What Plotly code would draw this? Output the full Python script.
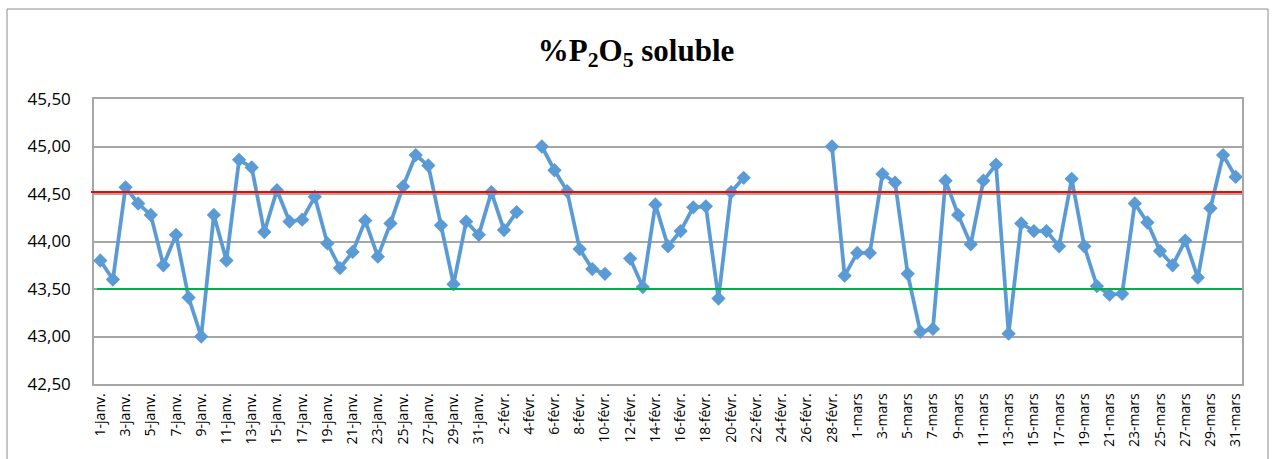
import plotly.graph_objects as go

# Daily soluble P2O5 (%) for the first quarter (leap year: 29 days in February)
jours_janv = [f"{d}-janv." for d in range(1, 32)]
jours_fevr = [f"{d}-févr." for d in range(1, 30)]
jours_mars = [f"{d}-mars" for d in range(1, 32)]

p2o5_janv = [43.80, 43.60, 44.57, 44.40, 44.28, 43.75, 44.07, 43.41, 43.00, 44.28,
             43.80, 44.86, 44.78, 44.10, 44.54, 44.21, 44.23, 44.47, 43.98, 43.72,
             43.89, 44.22, 43.84, 44.19, 44.58, 44.91, 44.80, 44.17, 43.55, 44.21,
             44.07]
p2o5_fevr = [44.52, 44.12, 44.31, None, 45.00, 44.75, 44.53, 43.92, 43.71, 43.66,
             None, 43.82, 43.52, 44.39, 43.95, 44.11, 44.36, 44.37, 43.40, 44.52,
             44.67, None, None, None, None, None, None, 45.00, 43.64]
p2o5_mars = [43.88, 43.88, 44.71, 44.62, 43.66, 43.05, 43.08, 44.64, 44.28, 43.97,
             44.64, 44.81, 43.03, 44.19, 44.11, 44.11, 43.95, 44.66, 43.95, 43.53,
             43.44, 43.45, 44.40, 44.20, 43.90, 43.75, 44.01, 43.62, 44.35, 44.91,
             44.68]

limite_sup = 44.52
limite_inf = 43.50

jours = jours_janv + jours_fevr + jours_mars
valeurs = p2o5_janv + p2o5_fevr + p2o5_mars
etiquettes = jours[::2]

W, H = 1272, 459
ML, MR, MT, MB = 94, 30, 99, 75
pw, ph = W - ML - MR, H - MT - MB


def px_x(x):
    return (x - ML) / pw


def px_y(y):
    return (H - MB - y) / ph


fig = go.Figure()
fig.add_trace(go.Scatter(
    x=jours, y=valeurs, mode="lines+markers", connectgaps=False,
    line=dict(color="#5B9BD5", width=3.75),
    marker=dict(symbol="diamond", size=11, color="#5B9BD5"),
    showlegend=False, hoverinfo="x+y",
))

# control limits
fig.add_shape(type="line", xref="paper", yref="y", x0=px_x(91), x1=1,
              y0=limite_sup, y1=limite_sup, line=dict(color="#FF0000", width=2))
fig.add_shape(type="line", xref="paper", yref="y", x0=px_x(97), x1=1,
              y0=limite_inf, y1=limite_inf, line=dict(color="#00B050", width=2))

# chart-area frame
fig.add_shape(type="rect", xref="paper", yref="paper",
              x0=px_x(7), x1=px_x(1268), y0=px_y(9), y1=px_y(480),
              line=dict(color="#8C8C8C", width=1), fillcolor="rgba(0,0,0,0)",
              layer="below")

fig.update_layout(
    width=W, height=H,
    margin=dict(l=ML, r=MR, t=MT, b=MB, pad=0),
    paper_bgcolor="white", plot_bgcolor="white",
    separators=", ",
    title=dict(text="%P<sub>2</sub>O<sub>5</sub> soluble",
               font=dict(family="Liberation Serif", size=31, color="black",
                         weight="bold"),
               x=0.5, xref="container", xanchor="center",
               y=1 - 50 / H, yref="container", yanchor="middle"),
    font=dict(family="Open Sans", color="black"),
)

fig.update_xaxes(
    type="category", categoryorder="array", categoryarray=jours,
    tickmode="array", tickvals=etiquettes, ticktext=etiquettes,
    tickangle=-90, tickfont=dict(size=14, family="Open Sans"),
    showgrid=False, showline=True, linecolor="#A6A6A6", linewidth=1.5,
    mirror=True, ticks="", ticklabelstandoff=2,
    range=[-0.5, len(jours) - 0.5],
)
fig.update_yaxes(
    range=[42.5, 45.5], dtick=0.5, tick0=42.5, tickformat=".2f",
    tickfont=dict(size=17, family="Open Sans"),
    showgrid=True, gridcolor="#A6A6A6", gridwidth=1.5,
    showline=True, linecolor="#A6A6A6", linewidth=1.5, mirror=True,
    zeroline=False, ticks="", ticklabelstandoff=18,
)

fig.write_html("out.html")
